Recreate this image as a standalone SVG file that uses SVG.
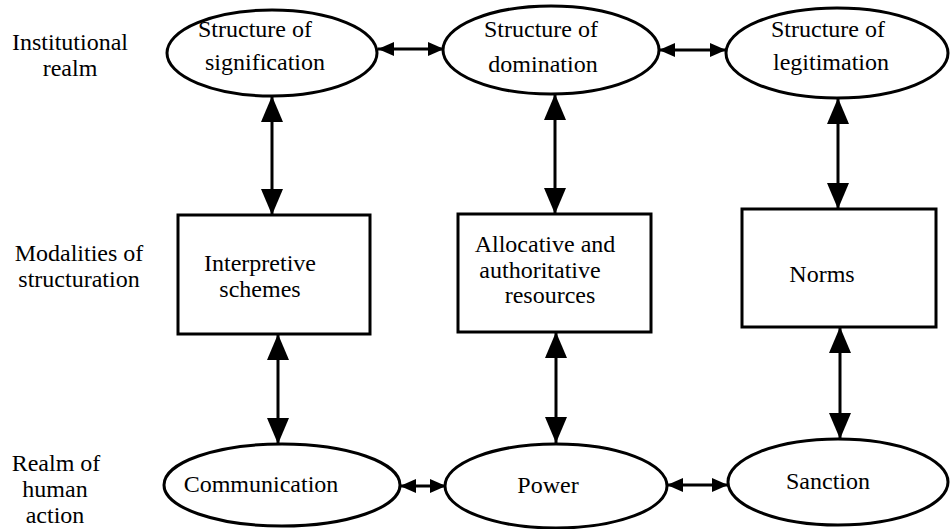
<svg xmlns="http://www.w3.org/2000/svg" width="950" height="529" viewBox="0 0 950 529">
  <style>
    text { font-size: 24px; fill: #000; text-anchor: middle; }
    .shape { fill: #fff; stroke: #000; stroke-width: 3; }
    .box { fill: #fff; stroke: #000; stroke-width: 3; }
    .link { stroke: #000; stroke-width: 3; fill: none; }
    .v { marker-start: url(#headBig); marker-end: url(#headBig); }
    .h { marker-start: url(#headSmall); marker-end: url(#headSmall); }
  </style>
  <defs>
    <marker id="headBig" markerUnits="userSpaceOnUse" viewBox="0 0 26 22" refX="26" refY="11" markerWidth="26" markerHeight="22" orient="auto-start-reverse">
      <path d="M0,0 L26,11 L0,22 z" fill="#000"/>
    </marker>
    <marker id="headSmall" markerUnits="userSpaceOnUse" viewBox="0 0 16 14" refX="16" refY="7" markerWidth="16" markerHeight="14" orient="auto-start-reverse">
      <path d="M0,0 L16,7 L0,14 z" fill="#000"/>
    </marker>
  </defs>

  <rect width="950" height="529" fill="#fff"/>

  <g font-family="Liberation Serif, DejaVu Serif, serif">
  <!-- row labels -->
  <g id="label-institutional">
    <text x="70" y="50">Institutional</text>
    <text x="70" y="76">realm</text>
  </g>
  <g id="label-modalities">
    <text x="79" y="261">Modalities of</text>
    <text x="79" y="287">structuration</text>
  </g>
  <g id="label-human">
    <text x="56" y="471">Realm of</text>
    <text x="55" y="497">human</text>
    <text x="55" y="523">action</text>
  </g>

  <!-- connectors -->
  <g id="connectors">
    <line class="link h" x1="378" y1="49" x2="444" y2="49"/>
    <line class="link h" x1="659" y1="50" x2="726" y2="50"/>
    <line class="link v" x1="272" y1="96" x2="272" y2="215"/>
    <line class="link v" x1="555" y1="94" x2="555" y2="214"/>
    <line class="link v" x1="838" y1="98" x2="838" y2="209"/>
    <line class="link v" x1="278" y1="334" x2="278" y2="444"/>
    <line class="link v" x1="556" y1="332" x2="556" y2="443"/>
    <line class="link v" x1="840" y1="327" x2="840" y2="439"/>
    <line class="link h" x1="400" y1="486" x2="446" y2="486"/>
    <line class="link h" x1="667" y1="485" x2="728" y2="485"/>
  </g>

  <!-- institutional realm -->
  <g id="structure-signification">
    <ellipse class="shape" cx="272" cy="53" rx="105" ry="43"/>
    <text x="255" y="37">Structure of</text>
    <text x="265" y="70">signification</text>
  </g>
  <g id="structure-domination">
    <ellipse class="shape" cx="551" cy="50" rx="108" ry="44"/>
    <text x="541" y="37">Structure of</text>
    <text x="543" y="72">domination</text>
  </g>
  <g id="structure-legitimation">
    <ellipse class="shape" cx="837" cy="53" rx="111" ry="45"/>
    <text x="828" y="37">Structure of</text>
    <text x="831" y="70">legitimation</text>
  </g>

  <!-- modalities -->
  <g id="interpretive-schemes">
    <rect class="box" x="178" y="215" width="192" height="119"/>
    <text x="260" y="271">Interpretive</text>
    <text x="260" y="297">schemes</text>
  </g>
  <g id="resources">
    <rect class="box" x="458" y="214" width="193" height="118"/>
    <text x="545" y="252">Allocative and</text>
    <text x="540" y="278">authoritative</text>
    <text x="550" y="303">resources</text>
  </g>
  <g id="norms">
    <rect class="box" x="742" y="209" width="194" height="118"/>
    <text x="822" y="282">Norms</text>
  </g>

  <!-- human action -->
  <g id="communication">
    <ellipse class="shape" cx="282" cy="485" rx="118" ry="41"/>
    <text x="261" y="492">Communication</text>
  </g>
  <g id="power">
    <ellipse class="shape" cx="556" cy="486" rx="111" ry="42"/>
    <text x="548" y="493">Power</text>
  </g>
  <g id="sanction">
    <ellipse class="shape" cx="838" cy="482" rx="110" ry="43"/>
    <text x="828" y="489">Sanction</text>
  </g>
  </g>
</svg>
